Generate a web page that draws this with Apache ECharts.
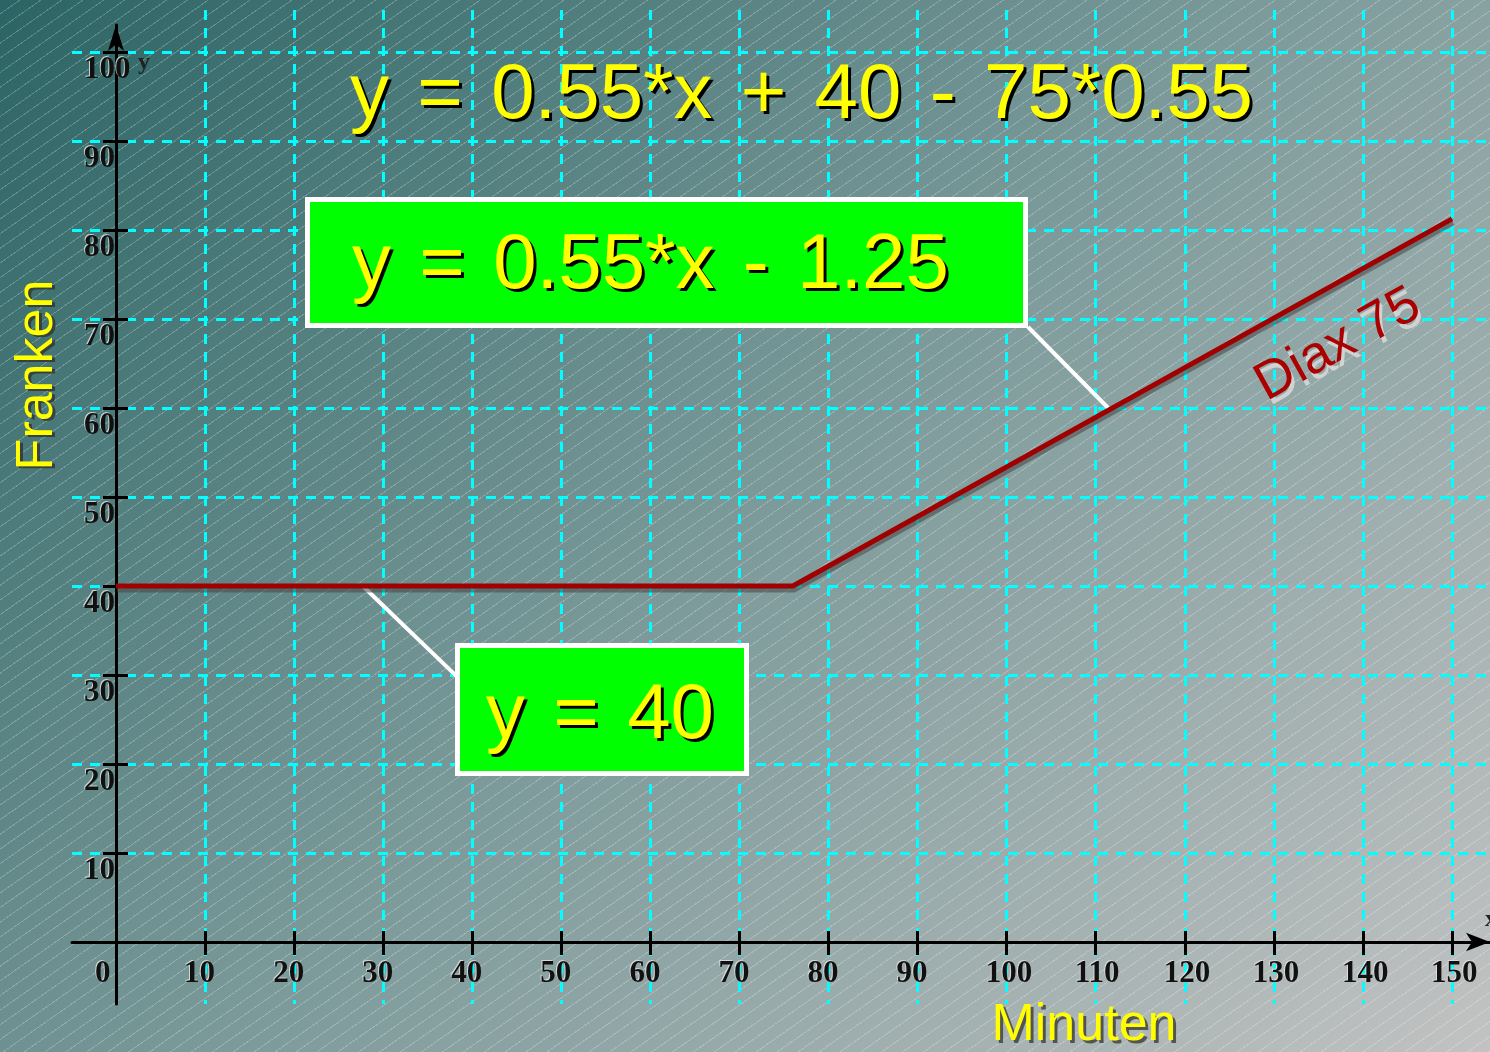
<!DOCTYPE html>
<html>
<head>
<meta charset="utf-8">
<script src="https://cdn.jsdelivr.net/npm/echarts@6/dist/echarts.min.js"></script>
<style>
html,body{margin:0;padding:0;}
#chart{width:1490px;height:1052px;
background:
 repeating-linear-gradient(145deg, rgba(255,255,255,0) 0px, rgba(255,255,255,0) 11px, rgba(255,255,255,0.22) 11px, rgba(255,255,255,0.22) 12px),
 linear-gradient(135deg, #2b6464 0%, #7c9a9a 50%, #c2c2c2 100%);}
</style>
</head>
<body>
<div id="chart"></div>
<script>
// ---- data ----
const xLabelValues = [0, 10, 20, 30, 40, 50, 60, 70, 80, 90, 100, 110, 120, 130, 140, 150];
const yLabelValues = [10, 20, 30, 40, 50, 60, 70, 80, 90, 100];
const xGridValues = [10, 20, 30, 40, 50, 60, 70, 80, 90, 100, 110, 120, 130, 140, 150];
const yGridValues = [10, 20, 30, 40, 50, 60, 70, 80, 90, 100];
const minutes = [0, 76, 150];
const franken = [40, 40, 81.25];
const leaderA = [[102.4, 69.1], [111.4, 60.0]];
const leaderB = [[38.2, 29.9], [27.7, 40.0]];
const titleText = 'y = 0.55*x + 40 - 75*0.55';
const boxText1 = 'y = 0.55*x - 1.25';
const boxText2 = 'y = 40';
const seriesName = 'Diax 75';
const xName = 'Minuten';
const yName = 'Franken';

// ---- layout ----
const kx = 1336 / 150, ky = 890 / 100;
const x0 = 116, y0 = 942;
const L = 72, R = 0, T0 = 10, T1 = 25, B = 48;
const xMin = -(x0 - L) / kx, xMax = (1490 - R - x0) / kx;
const yMin = -((1052 - B) - y0) / ky;
const yMax0 = (y0 - T0) / ky, yMax1 = (y0 - T1) / ky;

const chart = echarts.init(document.getElementById('chart'), null, {renderer: 'canvas'});
const tickFont = {fontFamily: 'Liberation Serif', fontWeight: 'bold', fontSize: 31, color: '#111',
  textShadowColor: 'rgba(225,225,225,0.85)', textShadowOffsetX: -1, textShadowOffsetY: -1, textShadowBlur: 0.5};
const bigFont = {fontFamily: 'Liberation Sans', fontSize: 78, lineHeight: 80, fill: '#ffff00',
  textShadowColor: '#000', textShadowOffsetX: 3, textShadowOffsetY: 3, textShadowBlur: 0.5,
  rich: {s: {fontFamily: 'Liberation Sans', fontSize: 102, lineHeight: 80}}};
// wider word spacing like the original: each space drawn as a wide rich-text token
const spaced = t => t.split(' ').join('{s| }');

const data = minutes.map((m, i) => [m, franken[i]]);

chart.setOption({
  backgroundColor: 'transparent',
  animation: false,
  grid: [
    {left: L, right: R, top: T0, bottom: B, containLabel: false, outerBoundsMode: 'none'},
    {left: L, right: R, top: T1, bottom: B, containLabel: false, outerBoundsMode: 'none'}
  ],
  xAxis: [
    {gridIndex: 0, type: 'value', min: xMin, max: xMax,
     axisLine: {show: false, onZero: true},
     axisTick: {show: true, customValues: xGridValues, length: 13, lineStyle: {color: '#000', width: 3}},
     splitLine: {show: true, lineStyle: {color: '#00ffff', width: 3, type: [10, 8]}},
     axisLabel: Object.assign({customValues: xLabelValues, margin: -46, align: 'left', verticalAlign: 'top', padding: [0, 0, 0, -21]}, tickFont)},
    {gridIndex: 1, type: 'value', min: xMin, max: xMax,
     name: 'x', nameLocation: 'end', nameGap: -5,
     nameTextStyle: {fontFamily: 'Liberation Serif', fontWeight: 'bold', fontSize: 24, color: '#222', align: 'left', verticalAlign: 'bottom', padding: [0, 0, 10, 0]},
     axisLine: {show: true, onZero: true, symbol: ['none', 'arrow'], symbolSize: [14, 24], lineStyle: {color: '#000', width: 3}},
     axisTick: {show: true, inside: true, customValues: xGridValues, length: 11, lineStyle: {color: '#000', width: 3}},
     splitLine: {show: false}, axisLabel: {show: false}}
  ],
  yAxis: [
    {gridIndex: 0, type: 'value', min: yMin, max: yMax0,
     axisLine: {show: false, onZero: true},
     axisTick: {show: true, customValues: yGridValues, length: 13, lineStyle: {color: '#000', width: 3}},
     splitLine: {show: true, lineStyle: {color: '#00ffff', width: 3, type: [10, 8]}},
     axisLabel: Object.assign({customValues: yLabelValues, margin: -12, align: 'left', verticalAlign: 'top', padding: [2, 0, 0, 0]}, tickFont)},
    {gridIndex: 1, type: 'value', min: yMin, max: yMax1,
     name: 'y', nameLocation: 'end', nameGap: -50,
     nameTextStyle: {fontFamily: 'Liberation Serif', fontWeight: 'bold', fontSize: 24, color: '#222', align: 'left', padding: [0, 0, 0, 22]},
     axisLine: {show: true, onZero: true, symbol: ['none', 'arrow'], symbolSize: [12, 26], lineStyle: {color: '#000', width: 3}},
     axisTick: {show: true, inside: true, customValues: yGridValues, length: 12, lineStyle: {color: '#000', width: 3}},
     splitLine: {show: false}, axisLabel: {show: false}}
  ],
  series: [{
    name: seriesName,
    type: 'line',
    xAxisIndex: 0, yAxisIndex: 0,
    data: data,
    symbol: 'none',
    z: 5,
    lineStyle: {color: '#a00000', width: 5, shadowColor: 'rgba(70,70,70,0.55)', shadowOffsetX: 1, shadowOffsetY: 4, shadowBlur: 0},
    markLine: {
      silent: true, symbol: 'none', label: {show: false},
      lineStyle: {color: '#ffffff', width: 4, type: 'solid'},
      data: [
        [{coord: leaderA[0]}, {coord: leaderA[1]}],
        [{coord: leaderB[0]}, {coord: leaderB[1]}]
      ]
    }
  }],
  graphic: [
    {type: 'text', left: 350, top: 45, z: 10,
     style: Object.assign({text: spaced(titleText)}, bigFont)},
    {type: 'rect', shape: {x: 307.5, y: 199.5, width: 718, height: 126}, z: 10,
     style: {fill: '#00ff00', stroke: '#ffffff', lineWidth: 5}},
    {type: 'text', left: 352, top: 215, z: 11,
     style: Object.assign({text: spaced(boxText1)}, bigFont)},
    {type: 'rect', shape: {x: 457.5, y: 645.5, width: 289, height: 128}, z: 10,
     style: {fill: '#00ff00', stroke: '#ffffff', lineWidth: 5}},
    {type: 'text', left: 486, top: 665, z: 11,
     style: Object.assign({text: spaced(boxText2)}, bigFont)},
    {type: 'text', x: 38, y: 375, rotation: Math.PI / 2, z: 10,
     style: {text: yName, fontFamily: 'Liberation Sans', fontSize: 52, fill: '#ffff00', align: 'center', verticalAlign: 'middle',
       textShadowColor: 'rgba(50,50,50,0.8)', textShadowOffsetX: 3, textShadowOffsetY: 2, textShadowBlur: 0.5}},
    {type: 'text', x: 1084, y: 1026, z: 10,
     style: {text: xName, fontFamily: 'Liberation Sans', fontSize: 52, fill: '#ffff00', align: 'center', verticalAlign: 'middle',
       textShadowColor: 'rgba(60,60,60,0.8)', textShadowOffsetX: 3, textShadowOffsetY: 3, textShadowBlur: 0.5}},
    {type: 'text', x: 1338, y: 345, rotation: 29 * Math.PI / 180, z: 10,
     style: {text: seriesName, fontFamily: 'Liberation Sans', fontSize: 53, fill: '#aa0000', align: 'center', verticalAlign: 'middle',
       textShadowColor: 'rgba(215,215,215,0.9)', textShadowOffsetX: 3, textShadowOffsetY: 5, textShadowBlur: 0.5}}
  ]
});
</script>
</body>
</html>
